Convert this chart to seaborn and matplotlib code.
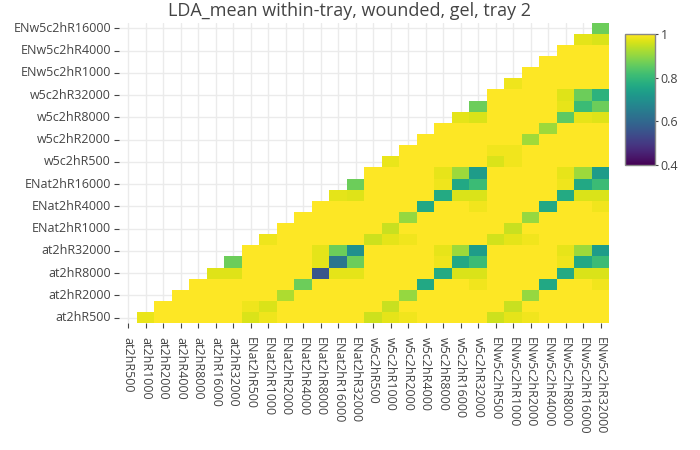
import numpy as np
import pandas as pd
import matplotlib
matplotlib.use("Agg")
import matplotlib.pyplot as plt
import seaborn as sns

# Категорії: 4 умови x 7 роздільностей
x_labels = [
    'at2hR500', 'at2hR1000', 'at2hR2000', 'at2hR4000', 'at2hR8000', 'at2hR16000', 'at2hR32000',
    'ENat2hR500', 'ENat2hR1000', 'ENat2hR2000', 'ENat2hR4000', 'ENat2hR8000', 'ENat2hR16000', 'ENat2hR32000',
    'w5c2hR500', 'w5c2hR1000', 'w5c2hR2000', 'w5c2hR4000', 'w5c2hR8000', 'w5c2hR16000', 'w5c2hR32000',
    'ENw5c2hR500', 'ENw5c2hR1000', 'ENw5c2hR2000', 'ENw5c2hR4000', 'ENw5c2hR8000', 'ENw5c2hR16000', 'ENw5c2hR32000',
]
y_labels = x_labels[:27]
y_tick_labels = y_labels[::2]

# Значення верхнього трикутника: рядок j містить стовпці j+1 .. 27
upper_rows = [
    [0.98, 1, 1, 1, 1, 1,
     0.965, 0.985, 1, 1, 1, 1, 1,
     0.955, 0.975, 0.987, 1, 1, 1, 1,
     0.955, 0.975, 0.987, 1, 1, 1, 1],
    [1, 1, 1, 1, 1,
     0.985, 0.965, 1, 1, 1, 1, 1,
     1, 0.95, 1, 1, 1, 1, 1,
     1, 0.95, 1, 1, 1, 1, 1],
    [1, 1, 1, 1,
     1, 1, 0.925, 1, 1, 1, 1,
     1, 1, 0.905, 1, 1, 1, 1,
     1, 1, 0.905, 1, 1, 1, 1],
    [1, 1, 1,
     1, 1, 1, 0.865, 1, 1, 1,
     1, 1, 1, 0.76, 1, 1, 0.987,
     1, 1, 1, 0.76, 1, 1, 0.987],
    [0.97, 0.97,
     1, 1, 1, 1, 0.56, 0.975, 0.975,
     1, 1, 1, 1, 0.765, 0.965, 0.965,
     1, 1, 1, 1, 0.765, 0.965, 0.965],
    [0.865,
     1, 1, 1, 1, 0.975, 0.635, 0.865,
     1, 1, 1, 1, 0.985, 0.76, 0.81,
     1, 1, 1, 1, 0.985, 0.76, 0.81],
    [1, 1, 1, 1, 0.975, 0.865, 0.70,
     1, 1, 1, 1, 0.978, 0.912, 0.73,
     1, 1, 1, 1, 0.978, 0.912, 0.73],
    [0.985, 1, 1, 1, 1, 1,
     0.955, 0.975, 0.987, 1, 1, 1, 1,
     0.96, 0.975, 0.987, 1, 1, 1, 1],
    [1, 1, 1, 1, 1,
     1, 0.95, 1, 1, 1, 1, 1,
     1, 0.95, 1, 1, 1, 1, 1],
    [1, 1, 1, 1,
     1, 1, 0.905, 1, 1, 1, 1,
     1, 1, 0.905, 1, 1, 1, 1],
    [1, 1, 1,
     1, 1, 1, 0.76, 1, 1, 0.987,
     1, 1, 1, 0.76, 1, 1, 0.987],
    [0.975, 0.97,
     1, 1, 1, 1, 0.765, 0.965, 0.965,
     1, 1, 1, 1, 0.765, 0.965, 0.965],
    [0.865,
     1, 1, 1, 1, 0.985, 0.76, 0.81,
     1, 1, 1, 1, 0.985, 0.76, 0.81],
    [1, 1, 1, 1, 0.978, 0.912, 0.73,
     1, 1, 1, 1, 0.978, 0.912, 0.73],
    [0.98, 1, 1, 1, 1, 1,
     0.965, 0.987, 1, 1, 1, 1, 1],
    [1, 1, 1, 1, 1,
     0.987, 0.987, 1, 1, 1, 1, 1],
    [1, 1, 1, 1,
     1, 1, 0.915, 1, 1, 1, 1],
    [1, 1, 1,
     1, 1, 1, 0.912, 1, 1, 1],
    [0.975, 0.965,
     1, 1, 1, 1, 0.85, 0.978, 0.97],
    [0.865,
     1, 1, 1, 1, 0.978, 0.81, 0.865],
    [1, 1, 1, 1, 0.97, 0.865, 0.785],
    [0.985, 1, 1, 1, 1, 1],
    [1, 1, 1, 1, 1],
    [1, 1, 1, 1],
    [1, 1, 1],
    [0.975, 0.965],
    [0.865],
]

title = 'LDA_mean within-tray, wounded, gel, tray 2'

matrix = pd.DataFrame(
    [[np.nan] * (j + 1) + row for j, row in enumerate(upper_rows)],
    index=y_labels, columns=x_labels,
)

sns.set_theme(style="white")
plt.rcParams['font.family'] = ['Open Sans', 'DejaVu Sans']

fig = plt.figure(figsize=(7, 4.5), dpi=100)
ax = fig.add_axes([0.1707, 0.2816, 0.7, 0.668])
cax = fig.add_axes([0.893, 0.6333, 0.0429, 0.291])

sns.heatmap(matrix, ax=ax, cbar_ax=cax, cmap='viridis', vmin=0.4, vmax=1,
            mask=matrix.isna(), xticklabels=True, yticklabels=True)
ax.invert_yaxis()

ax.set_xticks(np.arange(len(x_labels)) + 0.5)
ax.set_xticklabels(x_labels, rotation=270)
ax.set_yticks(np.arange(0, len(y_labels), 2) + 0.5)
ax.set_yticklabels(y_tick_labels, rotation=0)
ax.set_xlabel('')
ax.set_ylabel('')

ax.set_axisbelow(True)
ax.grid(True, color='#ebebeb', lw=1)
ax.tick_params(axis='both', bottom=True, left=True, length=3.6, width=0.8,
               color='#444444', labelcolor='#444444', labelsize=9)
ax.tick_params(axis='x', pad=6)
ax.tick_params(axis='y', pad=2.5)

cb = ax.collections[0].colorbar
cb.outline.set_edgecolor('#888888')
cb.outline.set_linewidth(1)
cb.set_ticks([0.4, 0.6, 0.8, 1.0])
cb.set_ticklabels(['0.4', '0.6', '0.8', '1'])
cax.tick_params(right=True, length=2, width=0.8, color='#444444',
                labelcolor='#444444', labelsize=9, pad=2)

fig.text(0.5, 0.976, title, ha='center', va='center', fontsize=13, color='#444444')

fig.savefig('out.png', dpi=100)
